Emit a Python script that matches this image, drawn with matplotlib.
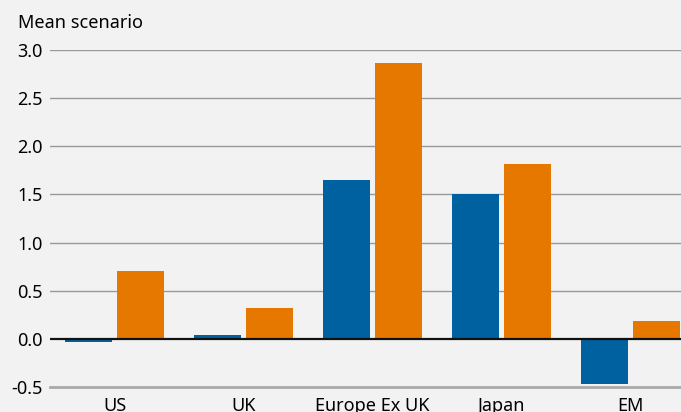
import matplotlib.pyplot as plt
import numpy as np

regions = ["US", "UK", "Europe Ex UK", "Japan", "EM"]
series_a = [-0.03, 0.04, 1.65, 1.50, -0.47]
series_b = [0.70, 0.32, 2.87, 1.82, 0.19]
yticks = [-0.5, 0.0, 0.5, 1.0, 1.5, 2.0, 2.5, 3.0]

blue = "#0061a0"
orange = "#e67800"
bg = "#f2f2f2"

plt.rcParams["font.family"] = ["Noto Sans", "DejaVu Sans"]

fig = plt.figure(figsize=(6.81, 4.12), dpi=100, facecolor=bg)
ax = fig.add_axes([50 / 681, 1 - 387 / 412, 1 - 50 / 681, (387 - 50) / 412])
ax.set_facecolor(bg)

x = np.arange(len(regions))
w = 0.364
off = 0.2016
ax.bar(x - off, series_a, width=w, color=blue, zorder=3)
ax.bar(x + off, series_b, width=w, color=orange, zorder=3)

ax.set_xlim(-0.5, 4.39)
ax.set_ylim(-0.5, 3.0)
ax.set_yticks(yticks)
ax.set_yticklabels([f"{v:.1f}" for v in yticks])
for v in yticks[1:]:
    if v == 0:
        continue
    ax.axhline(v, color="#999999", lw=1.0, zorder=1)
ax.axhline(0, color="#111111", lw=1.6, zorder=4)

for s in ["top", "right", "left"]:
    ax.spines[s].set_visible(False)
ax.spines["bottom"].set_color("#aaaaaa")
ax.spines["bottom"].set_linewidth(2.0)

ax.set_xticks(x)
ax.set_xticklabels(regions)
ax.tick_params(axis="x", length=0, pad=7, labelsize=13)
ax.tick_params(axis="y", length=0, pad=5, labelsize=13)

fig.text(18 / 681, 1 - 23 / 412, "Mean scenario", fontsize=13, va="center", ha="left")

fig.savefig("out.png", dpi=100, facecolor=bg)
